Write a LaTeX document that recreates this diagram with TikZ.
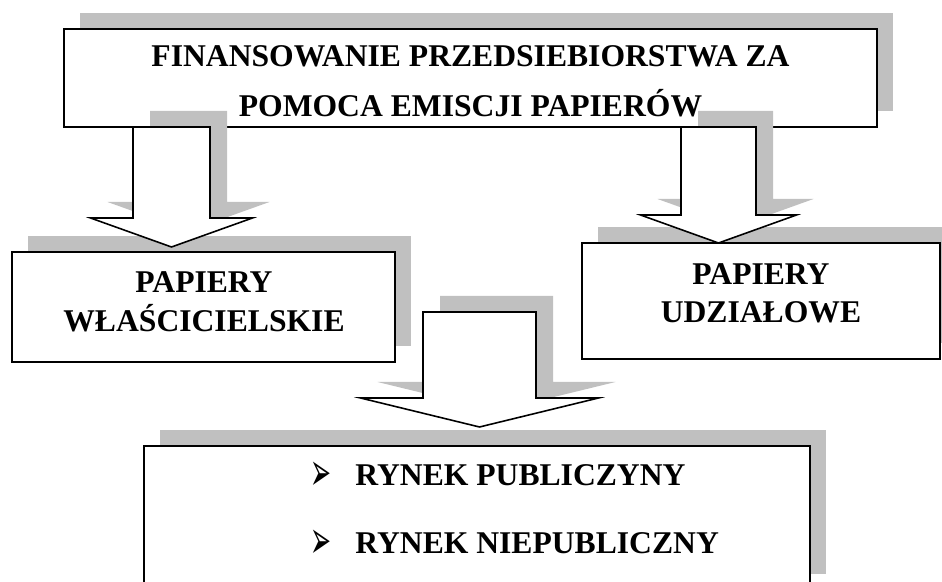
\documentclass[tikz,border=0pt]{standalone}
\usepackage{graphicx}
\usepackage{fontspec}
\setmainfont{Liberation Serif}
\newfontfamily\symfont{DejaVu Sans}
\usetikzlibrary{calc,shadows}
\definecolor{shadowgray}{RGB}{192,192,192}
\newcommand{\itembullet}{\makebox[0.90cm][l]{\raisebox{-0.1cm}{\scalebox{0.68}[1.45]{\symfont\fontsize{21}{21}\selectfont ➢}}}}

\begin{document}
\begin{tikzpicture}[
  box/.style={draw,line width=1.2pt,fill=white,inner sep=0pt,
    drop shadow={shadow xshift=0.32cm,shadow yshift=0.32cm,fill=shadowgray,opacity=1}},
  boxtext/.style={align=center,inner sep=0pt,font=\bfseries\fontsize{18}{22}\selectfont},
  itemtext/.style={inner sep=0pt,font=\bfseries\fontsize{18}{22}\selectfont},
  bigarrow/.style={draw,line width=0.9pt,fill=white,line join=miter,
    drop shadow={shadow xshift=0.34cm,shadow yshift=0.32cm,fill=shadowgray,opacity=1}}
]
  \useasboundingbox (0,0) rectangle (18.84,11.64);
  \clip (0,0) rectangle (18.84,11.64);

  % boxes
  \node[box,minimum width=16.26cm,minimum height=1.96cm] (fin) at (9.41,10.08) {};
  \node[boxtext,font=\bfseries\fontsize{18}{28.5}\selectfont] (fintext) at (9.41,10.01)
    {FINANSOWANIE PRZEDSIEBIORSTWA ZA\\POMOCA EMISCJI PAPIERÓW};

  \node[box,minimum width=7.66cm,minimum height=2.20cm] (wlasc) at (4.07,5.50) {};
  \node[boxtext,font=\bfseries\fontsize{18}{22.2}\selectfont] (wlasctext) at (4.08,5.60)
    {PAPIERY\\WŁAŚCICIELSKIE};

  \node[box,minimum width=7.16cm,minimum height=2.32cm] (udzial) at (15.22,5.62) {};
  \node[boxtext,font=\bfseries\fontsize{18}{21.6}\selectfont] (udzialtext) at (15.22,5.77)
    {PAPIERY\\UDZIAŁOWE};

  \node[box,minimum width=13.32cm,minimum height=2.88cm] (rynek) at (9.54,1.28) {};
  \node[itemtext,anchor=base west] (pub) at (6.20,1.92) {\itembullet RYNEK PUBLICZYNY};
  \node[itemtext,anchor=base west] (niepub) at (6.20,0.56) {\itembullet RYNEK NIEPUBLICZNY};

  % arrows
  \coordinate (s1) at (3.43,9.10);
  \coordinate (t1) at (3.43,6.70);
  \coordinate (s2) at (14.37,9.10);
  \coordinate (t2) at (14.37,6.78);
  \coordinate (s3) at (9.59,5.40);
  \coordinate (t3) at (9.59,3.10);

  \draw[bigarrow] ($(s1)+(-0.77,0)$) -- ($(t1)+(-0.77,0.58)$) -- ($(t1)+(-1.62,0.58)$) -- (t1)
    -- ($(t1)+(1.62,0.58)$) -- ($(t1)+(0.77,0.58)$) -- ($(s1)+(0.77,0)$) -- cycle;
  \draw[bigarrow] ($(s2)+(-0.75,0)$) -- ($(t2)+(-0.75,0.56)$) -- ($(t2)+(-1.56,0.56)$) -- (t2)
    -- ($(t2)+(1.56,0.56)$) -- ($(t2)+(0.75,0.56)$) -- ($(s2)+(0.75,0)$) -- cycle;
  \draw[bigarrow] ($(s3)+(-1.13,0)$) -- ($(t3)+(-1.13,0.58)$) -- ($(t3)+(-2.38,0.58)$) -- (t3)
    -- ($(t3)+(2.38,0.58)$) -- ($(t3)+(1.13,0.58)$) -- ($(s3)+(1.13,0)$) -- cycle;
\end{tikzpicture}
\end{document}
